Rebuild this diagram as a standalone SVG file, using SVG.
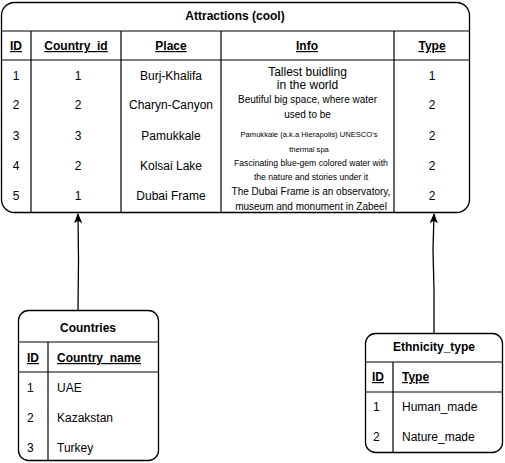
<svg xmlns="http://www.w3.org/2000/svg" width="505" height="463" viewBox="0 0 505 463">
<style>
.box{fill:#fff;stroke:#000;stroke-width:1.3}
.ln{stroke:#000;stroke-width:1.2;fill:none}
text{font-family:"Liberation Sans",Arial,sans-serif;fill:#000;text-anchor:middle}
.t{font-size:12px;font-weight:bold}
.h{font-size:12px;font-weight:bold;text-decoration:underline}
.d{font-size:12px}
.l{text-anchor:start}
.conn{stroke:#000;stroke-width:1.3;fill:none}
</style>
<defs>
<marker id="arr" viewBox="0 0 10 10" refX="9" refY="5" markerWidth="8" markerHeight="8" orient="auto">
<path d="M0,1 L10,5 L0,9 L2.5,5 Z" fill="#000"/>
</marker>
</defs>
<g id="connectors">
<path class="conn" d="M78,310 L78.5,260 L78,214" marker-end="url(#arr)"/>
<path class="conn" d="M434,333 L434,290 L433,250 L434,214" marker-end="url(#arr)"/>
</g>
<g id="attractions">
<rect class="box" x="1.5" y="2.5" width="468" height="210" rx="13"/>
<line class="ln" x1="1.5" y1="31" x2="469.5" y2="31"/>
<line class="ln" x1="1.5" y1="60" x2="469.5" y2="60"/>
<line class="ln" x1="31" y1="31" x2="31" y2="212"/>
<line class="ln" x1="121" y1="31" x2="121" y2="212"/>
<line class="ln" x1="221" y1="31" x2="221" y2="212"/>
<line class="ln" x1="394" y1="31" x2="394" y2="212"/>
<text class="t" x="235" y="20">Attractions (cool)</text>
<text class="h" x="16" y="50">ID</text>
<text class="h" x="76" y="50">Country_id</text>
<text class="h" x="171" y="50">Place</text>
<text class="h" x="307" y="50">Info</text>
<text class="h" x="432" y="50">Type</text>
<g class="d">
<text class="d" x="16" y="80">1</text>
<text class="d" x="78" y="80">1</text>
<text class="d" x="171" y="80">Burj-Khalifa</text>
<text class="d" x="432" y="80">1</text>
<text class="d" x="16" y="109">2</text>
<text class="d" x="78" y="109">2</text>
<text class="d" x="171" y="109">Charyn-Canyon</text>
<text class="d" x="432" y="109">2</text>
<text class="d" x="16" y="140">3</text>
<text class="d" x="78" y="140">3</text>
<text class="d" x="171" y="140">Pamukkale</text>
<text class="d" x="432" y="140">2</text>
<text class="d" x="16" y="170">4</text>
<text class="d" x="78" y="170">2</text>
<text class="d" x="171" y="170">Kolsai Lake</text>
<text class="d" x="432" y="170">2</text>
<text class="d" x="16" y="200">5</text>
<text class="d" x="78" y="200">1</text>
<text class="d" x="171" y="200">Dubai Frame</text>
<text class="d" x="432" y="200">2</text>
</g>
<text x="307.5" y="76" font-size="12">Tallest buidling</text>
<text x="307.5" y="89" font-size="12">in the world</text>
<text x="307.5" y="103" font-size="10">Beutiful big space, where water</text>
<text x="307.5" y="118" font-size="10">used to be</text>
<text x="309" y="137" font-size="7.6">Pamukkale (a.k.a Hierapolis) UNESCO's</text>
<text x="309" y="152" font-size="7.6">thermal spa</text>
<text x="311" y="166" font-size="8.6">Fascinating blue-gem colored water with</text>
<text x="311" y="180" font-size="8.6">the nature and stories under it</text>
<text x="311" y="195" font-size="10">The Dubai Frame is an observatory,</text>
<text x="311" y="210" font-size="10">museum and monument in Zabeel</text>
</g>
<g id="countries">
<rect class="box" x="18.5" y="310.5" width="140" height="150" rx="10"/>
<line class="ln" x1="18.5" y1="342" x2="158.5" y2="342"/>
<line class="ln" x1="18.5" y1="372" x2="158.5" y2="372"/>
<line class="ln" x1="48" y1="342" x2="48" y2="460.5"/>
<text class="t" x="88" y="332">Countries</text>
<text class="h" x="33" y="362">ID</text>
<text class="h l" x="57" y="362">Country_name</text>
<text class="d l" x="27" y="392">1</text>
<text class="d l" x="57" y="392">UAE</text>
<text class="d l" x="27" y="422">2</text>
<text class="d l" x="57" y="422">Kazakstan</text>
<text class="d l" x="27" y="452">3</text>
<text class="d l" x="57" y="452">Turkey</text>
</g>
<g id="ethnicity_type">
<rect class="box" x="365.5" y="333.5" width="137" height="119" rx="10"/>
<line class="ln" x1="365.5" y1="362" x2="502.5" y2="362"/>
<line class="ln" x1="365.5" y1="392" x2="502.5" y2="392"/>
<line class="ln" x1="393" y1="362" x2="393" y2="452.5"/>
<text class="t" x="434" y="351">Ethnicity_type</text>
<text class="h" x="378" y="381">ID</text>
<text class="h l" x="402" y="381">Type</text>
<text class="d l" x="373" y="411">1</text>
<text class="d l" x="402" y="411">Human_made</text>
<text class="d l" x="373" y="441">2</text>
<text class="d l" x="402" y="441">Nature_made</text>
</g>
</svg>
